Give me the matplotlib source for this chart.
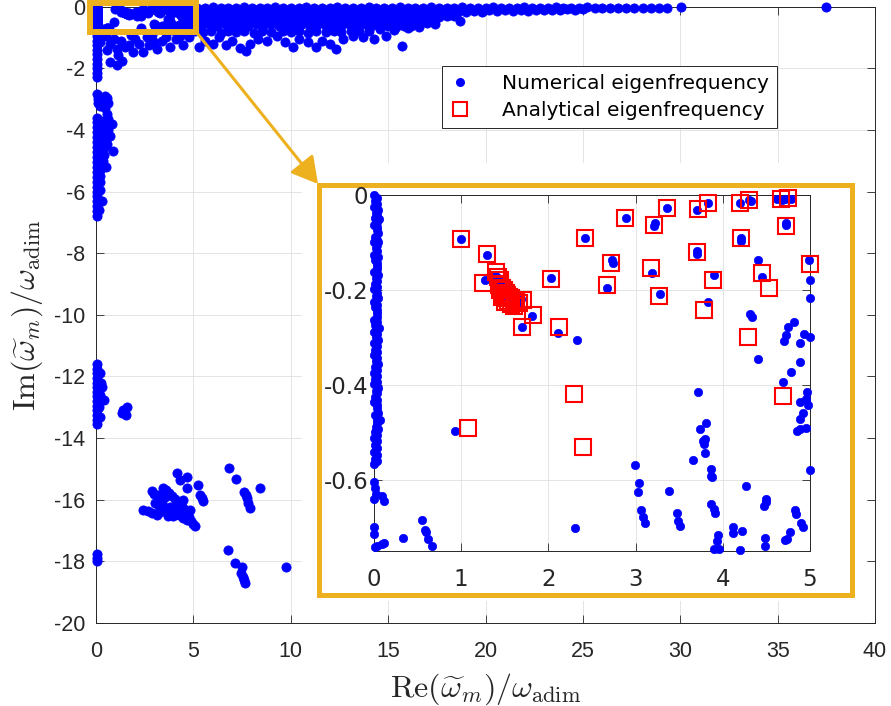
"""
Eigenfrequency map: numerical vs analytical, with a zoomed inset of the
low-damping region near the origin.
"""
import numpy as np
import matplotlib
matplotlib.use("Agg")
import matplotlib.pyplot as plt
from matplotlib.lines import Line2D
from matplotlib.patches import Rectangle, FancyArrowPatch

plt.rcParams["mathtext.fontset"] = "cm"
plt.rcParams["axes.unicode_minus"] = False

# ── Style ─────────────────────────────────────────────────────────────────────
GOLD = "#EDB120"
AX_COL = "#262626"
GRID_COL = "#dfdfdf"
W, H = 891, 706

# ── Data: numerical eigenfrequencies in the zoom window (Re, Im) ──────────────
ZOOM_COLUMN = [
    (0.00, 0.000), (0.01, -0.012), (0.00, -0.026), (0.02, -0.037), (0.01, -0.049),
    (0.06, -0.050), (0.00, -0.063), (0.03, -0.074), (0.01, -0.088), (0.00, -0.099),
    (0.05, -0.100), (0.02, -0.112), (0.00, -0.126), (0.01, -0.137), (0.03, -0.149),
    (0.00, -0.163), (0.02, -0.174), (0.01, -0.188), (0.00, -0.199), (0.02, -0.212),
    (0.00, -0.226), (0.01, -0.237), (0.03, -0.249), (0.00, -0.263), (0.01, -0.274),
    (0.06, -0.280), (0.00, -0.288), (0.02, -0.299), (0.00, -0.312), (0.01, -0.326),
    (0.00, -0.337), (0.02, -0.349), (0.01, -0.363), (0.00, -0.374), (0.01, -0.388),
    (0.00, -0.399), (0.02, -0.412), (0.01, -0.426), (0.00, -0.437), (0.03, -0.449),
    (0.05, -0.460), (0.01, -0.463), (0.07, -0.475), (0.04, -0.474), (0.02, -0.488),
    (0.01, -0.499), (0.00, -0.512), (0.01, -0.526), (0.00, -0.541), (0.01, -0.556),
    (0.00, -0.566), (0.00, -0.605), (0.01, -0.618), (0.02, -0.630), (0.00, -0.640),
    (0.09, -0.634), (0.11, -0.645), (0.00, -0.700), (0.00, -0.715), (0.01, -0.742),
    (0.04, -0.740), (0.09, -0.736), (0.12, -0.733),
]

ZOOM_COLUMN_2 = [
    (0.04, -0.006), (0.03, -0.019), (0.05, -0.031), (0.03, -0.043), (0.04, -0.057),
    (0.03, -0.068), (0.05, -0.081), (0.04, -0.094), (0.03, -0.106), (0.04, -0.119),
    (0.05, -0.131), (0.03, -0.143), (0.04, -0.156), (0.05, -0.168), (0.03, -0.181),
    (0.04, -0.193), (0.03, -0.206), (0.05, -0.218), (0.04, -0.231), (0.03, -0.243),
    (0.04, -0.256), (0.03, -0.268), (0.04, -0.293), (0.05, -0.306), (0.03, -0.318),
    (0.04, -0.331), (0.03, -0.343), (0.05, -0.356), (0.04, -0.368), (0.03, -0.381),
    (0.04, -0.393), (0.05, -0.406), (0.03, -0.418), (0.04, -0.431), (0.03, -0.443),
    (0.04, -0.481), (0.05, -0.493), (0.03, -0.506), (0.04, -0.518), (0.03, -0.533),
    (0.04, -0.548), (0.03, -0.560),
]

ZOOM_NUM = [
    (0.33, -0.722), (0.55, -0.685), (0.58, -0.705), (0.60, -0.710), (0.62, -0.724),
    (0.66, -0.740), (0.93, -0.498), (1.00, -0.092), (1.295, -0.126), (1.27, -0.179),
    (1.39, -0.168), (1.42, -0.175), (1.45, -0.188), (1.47, -0.198), (1.50, -0.205),
    (1.53, -0.212), (1.56, -0.218), (1.60, -0.222), (1.63, -0.224), (1.66, -0.226),
    (1.48, -0.210), (1.52, -0.220), (1.58, -0.230), (1.61, -0.239), (1.70, -0.279),
    (1.81, -0.255), (1.65, -0.223), (1.69, -0.220), (2.03, -0.174), (2.11, -0.291),
    (2.33, -0.306), (2.30, -0.702), (2.42, -0.091), (2.73, -0.136), (2.74, -0.144),
    (2.67, -0.196), (2.89, -0.048), (2.99, -0.569), (3.04, -0.606), (3.03, -0.625),
    (3.06, -0.664), (3.08, -0.678), (3.11, -0.690), (3.19, -0.164), (3.21, -0.065),
    (3.22, -0.060), (3.28, -0.208), (3.36, -0.027), (3.38, -0.623), (3.47, -0.669),
    (3.49, -0.686), (3.51, -0.697), (3.66, -0.559), (3.70, -0.117), (3.70, -0.125),
    (3.70, -0.032), (3.72, -0.416), (3.74, -0.493), (3.77, -0.518), (3.78, -0.525),
    (3.80, -0.513), (3.81, -0.481), (3.80, -0.544), (3.83, -0.225), (3.83, -0.016),
    (3.86, -0.578), (3.86, -0.592), (3.88, -0.594), (3.86, -0.651), (3.90, -0.662),
    (3.91, -0.669), (3.90, -0.168), (3.95, -0.716), (3.93, -0.729), (3.90, -0.745),
    (3.96, -0.745), (4.12, -0.700), (4.12, -0.712), (4.22, -0.708), (4.20, -0.748),
    (4.20, -0.016), (4.21, -0.091), (4.21, -0.097), (4.27, -0.613), (4.31, -0.251),
    (4.33, -0.256), (4.32, -0.013), (4.30, -0.011), (4.40, -0.137), (4.40, -0.346),
    (4.45, -0.173), (4.47, -0.656), (4.49, -0.647), (4.50, -0.640), (4.48, -0.722),
    (4.48, -0.740), (4.62, -0.009), (4.69, -0.393), (4.70, -0.307), (4.72, -0.295),
    (4.75, -0.279), (4.73, -0.064), (4.72, -0.058), (4.71, -0.008), (4.78, -0.009),
    (4.68, -0.010), (4.78, -0.372), (4.82, -0.267), (4.88, -0.352), (4.89, -0.311),
    (4.93, -0.293), (4.83, -0.664), (4.84, -0.671), (4.90, -0.692), (4.92, -0.699),
    (4.77, -0.710), (4.74, -0.724), (4.71, -0.727), (4.85, -0.497), (4.89, -0.492),
    (4.95, -0.490), (4.89, -0.471), (4.92, -0.460), (4.89, -0.436), (4.95, -0.430),
    (4.98, -0.443), (4.97, -0.414), (4.99, -0.136), (5.00, -0.216),
]

# ── Data: analytical eigenfrequencies (zoom window only) ──────────────────────
ANA = [
    (1.00, -0.093), (1.295, -0.125), (1.25, -0.186), (1.40, -0.163), (1.42, -0.172),
    (1.44, -0.180), (1.45, -0.188), (1.47, -0.195), (1.49, -0.200), (1.51, -0.206),
    (1.53, -0.210), (1.55, -0.214), (1.57, -0.218), (1.60, -0.222), (1.63, -0.225),
    (1.66, -0.228), (1.45, -0.200), (1.48, -0.210), (1.51, -0.218), (1.54, -0.224),
    (1.57, -0.229), (1.43, -0.190), (1.50, -0.225), (1.47, -0.215), (1.71, -0.221),
    (1.61, -0.234), (1.82, -0.253), (1.70, -0.278), (2.03, -0.178), (2.12, -0.279),
    (2.29, -0.420), (2.40, -0.530), (1.08, -0.491), (2.42, -0.091), (2.72, -0.144),
    (2.67, -0.190), (2.88, -0.048), (3.21, -0.064), (3.18, -0.154), (3.27, -0.213),
    (3.36, -0.027), (3.70, -0.121), (3.71, -0.030), (3.83, -0.016), (3.89, -0.179),
    (3.79, -0.243), (4.20, -0.016), (4.30, -0.011), (4.21, -0.091), (4.45, -0.164),
    (4.53, -0.195), (4.29, -0.300), (4.67, -0.009), (4.75, -0.007), (4.72, -0.065),
    (4.69, -0.424), (5.00, -0.146),
]

# ── Data: numerical eigenfrequencies outside the zoom window ──────────────────
NUM_AXIS = [
    (0.05, -0.80), (0.05, -0.95), (0.06, -1.10), (0.05, -1.25), (0.05, -1.40),
    (0.06, -1.55), (0.05, -1.70), (0.05, -1.85), (0.06, -2.00), (0.05, -2.15),
    (0.05, -2.30), (0.05, -2.85), (0.08, -3.00), (0.12, -3.12), (0.20, -3.22),
    (0.46, -2.90), (0.58, -2.95), (0.62, -3.12), (0.45, -3.28), (0.30, -3.05),
    (0.55, -3.48), (0.05, -3.60), (0.05, -3.76), (0.04, -3.92), (0.05, -4.08),
    (0.05, -4.24), (0.04, -4.40), (0.05, -4.56), (0.05, -4.72), (0.04, -4.88),
    (0.05, -5.04), (0.05, -5.20), (0.04, -5.36), (0.05, -5.52), (0.05, -5.68),
    (0.04, -5.84), (0.05, -6.00), (0.05, -6.16), (0.04, -6.32), (0.05, -6.48),
    (0.05, -6.64), (0.05, -6.80), (0.25, -3.70), (0.26, -3.90), (0.24, -4.10),
    (0.25, -4.30), (0.27, -4.50), (0.24, -4.70), (0.25, -4.90), (0.23, -5.10),
    (0.22, -5.30), (0.20, -5.50), (0.21, -5.70), (0.18, -5.95), (0.45, -3.70),
    (0.44, -3.92), (0.46, -4.12), (0.43, -4.35), (0.42, -4.58), (0.40, -4.80),
    (0.38, -5.00), (0.82, -3.82), (0.72, -4.20), (0.87, -4.70), (0.60, -3.65),
    (0.62, -4.00), (0.55, -4.45), (0.50, -5.20), (0.30, -6.30), (0.15, -6.60),
    (0.05, -11.60), (0.05, -11.75), (0.06, -11.90), (0.05, -12.05), (0.05, -12.20),
    (0.06, -12.35), (0.05, -12.50), (0.05, -12.65), (0.06, -12.80), (0.05, -12.95),
    (0.05, -13.10), (0.06, -13.25), (0.05, -13.40), (0.05, -13.55), (0.20, -11.90),
    (0.25, -12.20), (0.30, -12.35), (0.40, -12.75), (0.20, -12.60), (0.15, -13.00),
    (0.20, -13.30), (1.33, -13.20), (1.45, -13.15), (1.60, -13.00), (1.52, -13.25),
    (1.40, -13.10), (0.05, -17.75), (0.05, -17.88), (0.05, -18.00),
]

NUM_LOW = [
    (0.20, -1.15), (0.72, -1.20), (0.55, -1.42), (1.06, -1.37), (0.72, -1.80),
    (1.06, -1.91), (1.32, -1.75), (1.14, -1.58), (1.50, -1.30), (1.91, -1.47),
    (2.20, -1.20), (2.43, -1.47), (2.70, -1.25), (3.11, -1.37), (3.40, -1.10),
    (3.80, -1.31), (4.10, -1.05), (4.48, -1.26), (4.80, -1.00), (0.90, -1.05),
    (1.30, -1.10), (1.70, -1.25), (2.00, -1.05), (2.60, -1.00), (3.00, -1.15),
    (3.60, -1.00), (4.30, -0.95), (0.50, -0.95), (1.80, -0.92), (2.90, -0.92),
]

BAND_ROW0 = [
    (5.2, -0.03), (5.6, -0.05), (6.0, -0.02), (6.4, -0.04), (6.8, -0.03),
    (7.2, -0.05), (7.6, -0.02), (8.0, -0.04), (8.4, -0.03), (8.8, -0.05),
    (9.2, -0.02), (9.6, -0.04), (10.0, -0.03), (10.4, -0.05), (10.8, -0.02),
    (11.2, -0.04), (11.6, -0.03), (12.0, -0.05), (12.4, -0.02), (12.8, -0.04),
    (13.2, -0.03), (13.6, -0.05), (14.0, -0.02), (14.4, -0.04), (14.8, -0.03),
    (15.2, -0.05), (15.6, -0.02), (16.0, -0.04), (16.4, -0.03), (16.8, -0.05),
    (17.2, -0.02), (17.6, -0.04), (18.0, -0.03), (18.4, -0.05), (18.8, -0.02),
    (19.2, -0.04), (19.6, -0.03), (20.0, -0.05), (20.4, -0.02), (20.8, -0.04),
    (21.2, -0.03), (21.6, -0.05), (22.0, -0.02), (22.4, -0.04), (22.8, -0.03),
    (23.2, -0.05), (23.6, -0.02), (24.0, -0.04), (24.4, -0.03), (24.8, -0.05),
    (25.2, -0.02), (25.6, -0.04), (26.0, -0.03), (26.4, -0.04), (26.8, -0.03),
    (27.2, -0.04), (27.6, -0.03), (28.1, -0.04), (28.5, -0.03), (28.9, -0.04),
    (29.3, -0.03), (30.05, -0.02), (37.5, -0.02),
]

BAND_ROW1 = [
    (5.0, -0.18), (5.4, -0.22), (5.8, -0.18), (6.2, -0.22), (6.6, -0.18),
    (7.0, -0.22), (7.4, -0.18), (7.8, -0.22), (8.2, -0.18), (8.6, -0.22),
    (9.0, -0.18), (9.4, -0.22), (9.8, -0.18), (10.2, -0.22), (10.6, -0.18),
    (11.0, -0.22), (11.4, -0.18), (11.8, -0.22), (12.2, -0.18), (12.6, -0.22),
    (13.0, -0.18), (13.4, -0.22), (13.8, -0.18), (14.2, -0.22), (14.6, -0.18),
    (15.0, -0.22), (15.4, -0.18), (15.8, -0.22), (16.2, -0.18), (16.6, -0.22),
    (17.0, -0.18), (17.4, -0.22), (17.8, -0.18), (18.2, -0.20), (18.6, -0.16),
    (19.0, -0.18), (19.4, -0.14), (19.8, -0.16), (20.2, -0.12), (20.6, -0.15),
    (21.0, -0.12), (21.4, -0.14), (21.8, -0.11), (22.2, -0.13), (22.6, -0.10),
    (23.0, -0.12), (23.4, -0.10), (23.8, -0.12), (24.2, -0.09), (24.6, -0.11),
    (25.0, -0.09),
]

BAND_FILL = [
    (5.4, -0.10), (5.8, -0.12), (6.2, -0.10), (6.6, -0.12), (7.0, -0.10),
    (7.4, -0.12), (7.8, -0.10), (8.2, -0.12), (8.6, -0.10), (9.0, -0.12),
    (9.4, -0.10), (9.8, -0.12), (10.2, -0.10), (10.6, -0.12), (11.0, -0.10),
    (11.4, -0.12), (11.8, -0.10), (12.2, -0.12), (12.6, -0.10), (13.0, -0.12),
    (13.4, -0.10), (13.8, -0.12), (14.2, -0.10), (14.6, -0.12), (15.0, -0.10),
    (15.4, -0.12), (15.8, -0.10), (16.2, -0.12), (16.6, -0.10), (17.0, -0.12),
    (17.4, -0.10), (17.8, -0.12), (5.0, -0.30), (5.4, -0.29), (5.8, -0.31),
    (6.2, -0.29), (6.6, -0.31), (7.0, -0.29), (7.4, -0.31), (7.8, -0.29),
    (8.2, -0.31), (8.6, -0.29), (9.0, -0.31), (9.4, -0.29), (9.8, -0.31),
    (10.2, -0.29), (10.6, -0.31), (11.0, -0.29), (11.4, -0.31), (11.8, -0.29),
    (12.2, -0.31), (12.6, -0.29), (13.0, -0.31), (13.4, -0.29), (13.8, -0.31),
    (14.2, -0.29), (14.6, -0.31), (15.0, -0.29), (15.4, -0.31), (15.8, -0.29),
    (16.2, -0.31), (16.6, -0.29), (17.0, -0.31), (5.4, -0.50), (5.8, -0.49),
    (6.2, -0.51), (6.6, -0.49), (7.0, -0.51), (7.4, -0.49), (7.8, -0.51),
    (8.2, -0.49), (8.6, -0.51), (9.0, -0.49), (9.4, -0.51), (9.8, -0.49),
    (10.2, -0.51), (10.6, -0.49), (11.0, -0.51), (11.4, -0.49), (11.8, -0.51),
    (12.2, -0.49), (12.6, -0.51), (13.0, -0.49), (13.4, -0.51), (13.8, -0.49),
    (14.2, -0.51), (14.6, -0.49), (15.0, -0.51), (15.4, -0.49), (15.8, -0.51),
    (16.2, -0.49),
]

BAND_ROW2 = [
    (5.2, -0.38), (5.6, -0.42), (6.0, -0.38), (6.4, -0.42), (6.8, -0.38),
    (7.2, -0.42), (7.6, -0.38), (8.0, -0.42), (8.4, -0.38), (8.8, -0.42),
    (9.2, -0.38), (9.6, -0.42), (10.0, -0.38), (10.4, -0.42), (10.8, -0.38),
    (11.2, -0.42), (11.6, -0.38), (12.0, -0.42), (12.4, -0.38), (12.8, -0.42),
    (13.2, -0.38), (13.6, -0.42), (14.0, -0.38), (14.4, -0.42), (14.8, -0.38),
    (15.2, -0.42), (15.6, -0.38), (16.0, -0.42), (16.4, -0.38), (16.8, -0.40),
    (17.2, -0.36), (17.6, -0.34), (18.0, -0.32), (18.4, -0.30), (18.15, -0.26),
    (18.7, -0.46),
]

BAND_ROW3 = [
    (5.0, -0.58), (5.4, -0.62), (5.8, -0.58), (6.2, -0.62), (6.6, -0.58),
    (7.0, -0.62), (7.4, -0.58), (7.8, -0.62), (8.2, -0.58), (8.6, -0.62),
    (9.0, -0.58), (9.4, -0.62), (9.8, -0.58), (10.2, -0.62), (10.6, -0.58),
    (11.0, -0.62), (11.4, -0.58), (11.8, -0.62), (12.2, -0.58), (12.6, -0.62),
    (13.0, -0.58), (13.4, -0.62), (13.8, -0.58), (14.2, -0.60), (14.6, -0.66),
    (15.0, -0.62), (15.4, -0.66), (15.8, -0.62), (16.2, -0.64), (16.6, -0.58),
    (17.0, -0.52),
]

BAND_LOW = [
    (5.1, -0.80), (5.5, -0.84), (5.9, -0.80), (6.4, -0.85), (6.8, -0.80),
    (7.2, -0.84), (7.6, -0.80), (8.1, -0.85), (8.5, -0.80), (9.0, -0.82),
    (9.6, -0.80), (10.0, -0.84), (10.4, -0.80), (10.9, -0.85), (11.3, -0.80),
    (11.8, -0.84), (12.2, -0.80), (12.6, -0.82), (13.1, -0.78), (13.5, -0.80),
    (5.3, -1.30), (5.6, -1.10), (6.0, -1.20), (6.3, -1.00), (6.7, -1.25),
    (7.0, -1.10), (7.4, -1.35), (7.7, -1.45), (7.9, -1.20), (8.3, -1.05),
    (8.8, -1.10), (9.3, -0.95), (9.7, -1.15), (10.1, -1.30), (10.4, -1.05),
    (10.9, -1.15), (11.3, -1.30), (11.6, -1.10), (12.0, -1.20), (12.3, -1.37),
    (12.7, -1.05), (13.2, -0.95), (13.7, -1.00), (14.3, -1.04), (14.9, -0.94),
    (15.7, -1.27), (15.3, -0.75), (16.0, -0.70), (16.6, -0.65), (17.4, -0.55),
    (14.0, -0.80), (14.6, -0.72),
]

NUM_DEEP = [
    (4.14, -15.13), (4.31, -15.35), (4.65, -15.26), (4.68, -15.62), (5.25, -15.51),
    (5.33, -15.84), (5.50, -16.05), (5.42, -15.95), (2.85, -15.73), (3.00, -15.80),
    (3.20, -15.85), (3.45, -15.62), (3.60, -15.68), (3.75, -15.78), (3.90, -15.88),
    (4.05, -15.98), (4.20, -16.08), (4.35, -16.18), (4.50, -16.30), (4.62, -16.42),
    (4.75, -16.55), (4.88, -16.68), (5.00, -16.78), (5.08, -16.85), (3.55, -15.90),
    (3.40, -16.05), (3.50, -16.22), (3.65, -16.35), (3.85, -16.40), (4.05, -16.45),
    (4.25, -16.50), (4.45, -16.58), (4.65, -16.66), (2.43, -16.33), (2.65, -16.38),
    (2.85, -16.42), (3.11, -16.49), (3.30, -16.40), (3.80, -16.22), (4.48, -16.00),
    (4.82, -16.33), (3.97, -16.54), (4.40, -16.25), (4.10, -16.30), (3.70, -16.52),
    (3.25, -16.20), (3.05, -16.10), (6.84, -14.97), (7.18, -15.32), (7.61, -15.76),
    (7.68, -15.85), (7.73, -15.95), (7.81, -16.11), (7.93, -16.27), (8.41, -15.62),
    (6.79, -17.63), (7.13, -18.04), (7.52, -18.17), (7.47, -18.38), (7.53, -18.50),
    (7.59, -18.60), (7.64, -18.71), (9.74, -18.19),
]

# ── Geometry (pixels of the 891x706 canvas) ───────────────────────────────────
MAIN_BOX = (96, 6.6, 875, 623)      # left, top, right, bottom
INSET_BOX = (374, 195, 810, 551)
FRAME_BOX = (319, 184.5, 851.7, 595)
MASK_BOX = (302, 163, 866, 601)


def fig_rect(box):
    l, t, r, b = box
    return [l / W, 1 - b / H, (r - l) / W, (b - t) / H]


def style_axes(ax, tick_size, family, xpad, ypad):
    ax.tick_params(direction="in", length=6, width=0.6, top=True, right=True,
                   colors=AX_COL, labelsize=tick_size, labelfontfamily=family)
    ax.tick_params(axis="x", pad=xpad)
    ax.tick_params(axis="y", pad=ypad)
    for sp in ax.spines.values():
        sp.set_color(AX_COL)
        sp.set_linewidth(0.7)
    ax.grid(True, color=GRID_COL, lw=0.6)
    ax.set_axisbelow(True)


def main():
    zoom_pts = np.array(ZOOM_COLUMN + ZOOM_COLUMN_2 + ZOOM_NUM)
    far_pts = np.array(NUM_AXIS + NUM_LOW + BAND_ROW0 + BAND_ROW1 + BAND_FILL
                       + BAND_ROW2 + BAND_ROW3 + BAND_LOW + NUM_DEEP)
    all_pts = np.vstack([zoom_pts, far_pts])
    ana_pts = np.array(ANA)

    fig = plt.figure(figsize=(W / 100, H / 100), dpi=100)

    # main axes
    ax = fig.add_axes(fig_rect(MAIN_BOX))
    style_axes(ax, 15.5, "Liberation Sans", 13, 8)
    ax.plot(all_pts[:, 0], all_pts[:, 1], "o", ms=6.6, mfc="blue", mec="blue",
            mew=0.6, clip_on=False, zorder=3)
    ax.set_xlim(0, 40)
    ax.set_ylim(-20, 0)
    ax.set_xticks(np.arange(0, 41, 5))
    ax.set_yticks(np.arange(-20, 1, 2))

    ax.set_xlabel(r"$\mathrm{Re}(\widetilde{\omega}_m)/\omega_{\mathrm{adim}}$",
                  fontsize=23, color=AX_COL)
    ax.set_ylabel(r"$\mathrm{Im}(\widetilde{\omega}_m)/\omega_{\mathrm{adim}}$",
                  fontsize=23, color=AX_COL)
    ax.xaxis.set_label_coords(0.5, -0.078)
    ax.yaxis.set_label_coords(-0.066, 0.5)

    # zoom marker in the main axes
    ax.add_patch(Rectangle((-0.3, -0.84), 5.43, 0.96, fill=False, ec=GOLD,
                           lw=4.3, clip_on=False, zorder=6))

    handles = [
        Line2D([], [], ls="none", marker="o", ms=6.5, mfc="blue", mec="none"),
        Line2D([], [], ls="none", marker="s", ms=10, mfc="none", mec="red", mew=1.5),
    ]
    leg = ax.legend(handles, ["Numerical eigenfrequency", "Analytical eigenfrequency"],
                    loc="upper left", bbox_to_anchor=(0.444, 0.9036), borderaxespad=0,
                    fontsize=14.5, fancybox=False, framealpha=1, edgecolor=AX_COL,
                    handlelength=1.0, handletextpad=1.6, borderpad=0.4,
                    labelspacing=0.4)
    leg.get_frame().set_linewidth(0.7)

    # white backing, gold frame and arrow for the inset
    fig.add_artist(Rectangle(fig_rect(MASK_BOX)[:2], *fig_rect(MASK_BOX)[2:],
                             transform=fig.transFigure, fc="white", ec="none", zorder=1))
    fig.add_artist(Rectangle(fig_rect(FRAME_BOX)[:2], *fig_rect(FRAME_BOX)[2:],
                             transform=fig.transFigure, fc="none", ec=GOLD, lw=3.6,
                             zorder=2))
    arrow = FancyArrowPatch((197 / W, 1 - 33 / H), (318 / W, 1 - 184 / H),
                            transform=fig.transFigure,
                            arrowstyle="-|>,head_length=0.8,head_width=0.45",
                            mutation_scale=20, lw=2.2, color=GOLD,
                            shrinkA=0, shrinkB=0, zorder=2)
    fig.add_artist(arrow)

    # inset axes
    axins = fig.add_axes(fig_rect(INSET_BOX))
    axins.set_zorder(3)
    style_axes(axins, 16.5, "DejaVu Sans", 12, 4)
    inside = ((all_pts[:, 0] >= 0) & (all_pts[:, 0] <= 5)
              & (all_pts[:, 1] >= -0.75) & (all_pts[:, 1] <= 0))
    axins.plot(all_pts[inside, 0], all_pts[inside, 1], "o", ms=6.0, mfc="blue",
               mec="blue", mew=0.5, clip_on=False, zorder=3)
    axins.plot(ana_pts[:, 0], ana_pts[:, 1], "s", ms=11, mfc="none", mec="red",
               mew=1.5, clip_on=False, zorder=4)
    axins.set_xlim(0, 5)
    axins.set_ylim(-0.75, 0)
    axins.set_xticks(np.arange(0, 6, 1))
    axins.set_yticks([-0.6, -0.4, -0.2, 0])
    axins.set_yticklabels(["-0.6", "-0.4", "-0.2", "0"])

    fig.savefig("out.png", dpi=100)
    plt.close(fig)


if __name__ == "__main__":
    main()
